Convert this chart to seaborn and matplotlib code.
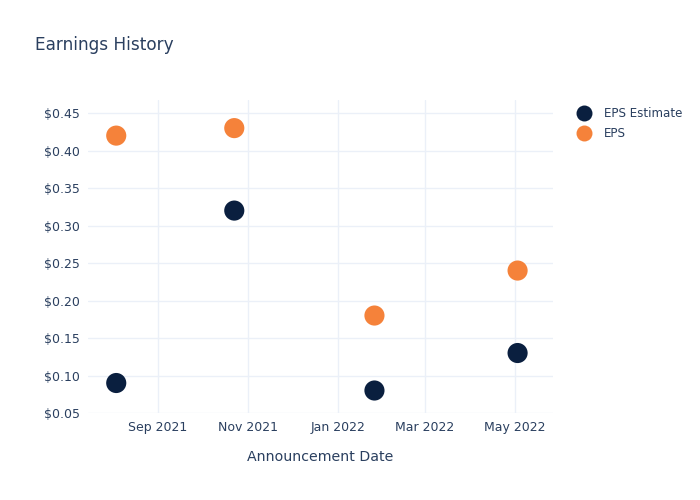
import matplotlib
matplotlib.use("Agg")
from matplotlib import pyplot as plt
import matplotlib.dates as mdates
from matplotlib.ticker import FuncFormatter
import seaborn as sns
import pandas as pd

# Earnings data
dates = ["2021-08-04", "2021-10-23", "2022-01-26", "2022-05-03"]
eps_estimate = [0.09, 0.32, 0.08, 0.13]
eps_actual = [0.42, 0.43, 0.18, 0.24]

TEXT = "#2a3f5f"
GRID = "#ebf0f8"
palette = {"EPS Estimate": "#0a1f3f", "EPS": "#f5823a"}

df = pd.DataFrame({
    "date": pd.to_datetime(dates * 2),
    "value": eps_estimate + eps_actual,
    "series": ["EPS Estimate"] * len(dates) + ["EPS"] * len(dates),
})

sns.set_style("white")
plt.rcParams["font.family"] = ["DejaVu Sans"]

fig = plt.figure(figsize=(7, 5), dpi=100)
ax = fig.add_axes([0.126, 0.174, 0.664, 0.626])

sns.scatterplot(data=df, x="date", y="value", hue="series", palette=palette,
                s=210, linewidth=0, edgecolor="none", ax=ax, legend=False, zorder=3)

ax.set_xlim(pd.Timestamp("2021-07-16"), pd.Timestamp("2022-05-27"))
ax.set_ylim(0.05, 0.4675)
ax.set_yticks([0.05, 0.10, 0.15, 0.20, 0.25, 0.30, 0.35, 0.40, 0.45])
ax.yaxis.set_major_formatter(FuncFormatter(lambda v, p: f"${v:.2f}"))
ax.xaxis.set_major_locator(mdates.MonthLocator(bymonth=[1, 3, 5, 7, 9, 11]))
ax.xaxis.set_major_formatter(mdates.DateFormatter("%b %Y"))

ax.grid(True, color=GRID, linewidth=1)
for s in ax.spines.values():
    s.set_visible(False)
ax.tick_params(axis="both", length=0, labelsize=9, colors=TEXT, pad=6)
ax.set_xlabel("Announcement Date", fontsize=10.2, color=TEXT, labelpad=11)
ax.set_ylabel("")

fig.text(0.05, 0.9, "Earnings History", fontsize=12.2, color=TEXT)

# legend to the right of the plot
handles = [plt.Line2D([], [], marker="o", linestyle="", markersize=11.5,
                      markeredgewidth=0, color=palette[k]) for k in palette]
fig.legend(handles, list(palette), loc="upper left", bbox_to_anchor=(0.81, 0.795),
           frameon=False, fontsize=8.6, labelcolor=TEXT, handletextpad=0.7,
           labelspacing=0.55, borderaxespad=0)

fig.savefig("out.png", dpi=100)
